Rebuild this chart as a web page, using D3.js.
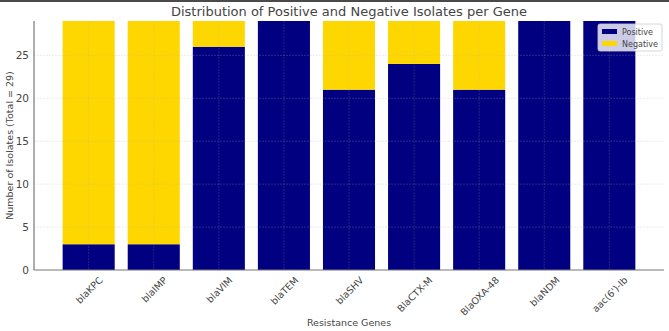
<!DOCTYPE html>
<html>
<head>
<meta charset="utf-8">
<script src="https://cdn.jsdelivr.net/npm/d3@7"></script>
<style>
  body { margin: 0; background: #fff; }
  text { font-family: "DejaVu Sans", sans-serif; fill: #444; }
</style>
</head>
<body>
<div id="vis"></div>
<script>
// the data
var genes = ["blaKPC", "blaIMP", "blaVIM", "blaTEM", "blaSHV", "BlaCTX-M", "BlaOXA-48", "blaNDM", "aac(6')-Ib"];
var positive = [3, 3, 26, 29, 21, 24, 21, 29, 29];
var negative = [26, 26, 3, 0, 8, 5, 8, 0, 0];
var yTicks = [0, 5, 10, 15, 20, 25];
var seriesNames = ["Positive", "Negative"];
var colors = ["#000080", "#ffd700"];

var W = 669, H = 331;
var plot = {left: 34, right: 664, top: 21, bottom: 270};

var svg = d3.select("#vis").append("svg")
    .attr("width", W)
    .attr("height", H);

// dark strip at top of the picture
svg.append("rect").attr("x", 0).attr("y", 0).attr("width", W).attr("height", 2).attr("fill", "#4a4a4a");

// scales - matplotlib style margins
var x = d3.scaleLinear().domain([-0.84, genes.length - 1 + 0.84]).range([plot.left, plot.right]);
var y = d3.scaleLinear().domain([0, 29]).range([plot.bottom, plot.top]);
var barW = x(0.4) - x(-0.4);

var rows = genes.map(function(g, i) { return {gene: g, i: i, pos: positive[i], neg: negative[i]}; });

// positive bars
svg.selectAll(".pos").data(rows).enter().append("rect")
    .attr("x", function(d) { return x(d.i) - barW / 2; })
    .attr("y", function(d) { return y(d.pos); })
    .attr("width", barW)
    .attr("height", function(d) { return y(0) - y(d.pos); })
    .attr("fill", colors[0]);

// negative bars on top
svg.selectAll(".neg").data(rows.filter(function(d) { return d.neg > 0; })).enter().append("rect")
    .attr("x", function(d) { return x(d.i) - barW / 2; })
    .attr("y", function(d) { return y(d.pos + d.neg); })
    .attr("width", barW)
    .attr("height", function(d) { return y(d.pos) - y(d.pos + d.neg); })
    .attr("fill", colors[1]);

// grid (faint, dashed)
svg.append("g").selectAll("line").data(yTicks.filter(function(t) { return t > 0; })).enter().append("line")
    .attr("x1", plot.left).attr("x2", plot.right)
    .attr("y1", function(d) { return y(d); }).attr("y2", function(d) { return y(d); })
    .attr("stroke", "#b0b0b0").attr("stroke-opacity", 0.3)
    .attr("stroke-dasharray", "2,1").attr("stroke-width", 0.8);
svg.append("g").selectAll("line").data(rows).enter().append("line")
    .attr("y1", plot.top).attr("y2", plot.bottom)
    .attr("x1", function(d) { return x(d.i); }).attr("x2", function(d) { return x(d.i); })
    .attr("stroke", "#b0b0b0").attr("stroke-opacity", 0.25)
    .attr("stroke-dasharray", "2,1").attr("stroke-width", 0.8);

// y axis
var yAxis = svg.append("g")
    .attr("transform", "translate(" + plot.left + ",0)")
    .call(d3.axisLeft(y).tickValues(yTicks).tickSize(0).tickPadding(5));
yAxis.select(".domain").attr("stroke", "#777").attr("stroke-width", 1.2).attr("d", "M0," + plot.bottom + "V" + plot.top);
yAxis.selectAll("text").attr("font-size", 10.5).attr("fill", "#444").attr("font-family", "DejaVu Sans");

// x axis
var xAxis = svg.append("g")
    .attr("transform", "translate(0," + plot.bottom + ")")
    .call(d3.axisBottom(x).tickValues(d3.range(genes.length)).tickSize(0).tickFormat(function(i) { return genes[i]; }));
xAxis.select(".domain").attr("stroke", "#777").attr("stroke-width", 1.2).attr("d", "M" + plot.left + ",0H" + plot.right);
xAxis.selectAll("text")
    .attr("font-size", 9.5).attr("fill", "#444").attr("font-family", "DejaVu Sans")
    .attr("text-anchor", "middle").attr("dy", null).attr("y", null)
    .attr("dominant-baseline", "central")
    .attr("transform", function() {
      var w = this.getComputedTextLength(), h = 9.5;
      var half = (w + h) * Math.SQRT1_2 / 2;
      return "translate(0," + (5 + half) + ")rotate(-45)";
    });

// labels
svg.append("text")
    .attr("x", (plot.left + plot.right) / 2).attr("y", 16)
    .attr("text-anchor", "middle").attr("font-size", 13)
    .text("Distribution of Positive and Negative Isolates per Gene");
svg.append("text")
    .attr("x", 349).attr("y", 326)
    .attr("text-anchor", "middle").attr("font-size", 9.5)
    .text("Resistance Genes");
svg.append("text")
    .attr("transform", "translate(13," + ((plot.top + plot.bottom) / 2) + ")rotate(-90)")
    .attr("text-anchor", "middle").attr("font-size", 9.5)
    .text("Number of Isolates (Total = 29)");

// legend
var lg = svg.append("g").attr("transform", "translate(598,24)");
lg.append("rect").attr("width", 64).attr("height", 27).attr("rx", 2)
    .attr("fill", "#fff").attr("fill-opacity", 0.8).attr("stroke", "#ccc").attr("stroke-width", 0.8);
seriesNames.forEach(function(name, i) {
  lg.append("rect").attr("x", 4).attr("y", 5 + i * 12).attr("width", 15).attr("height", 5).attr("fill", colors[i]);
  lg.append("text").attr("x", 24).attr("y", 10.5 + i * 12).attr("font-size", 8).attr("fill", "#444").text(name);
});
</script>
</body>
</html>
